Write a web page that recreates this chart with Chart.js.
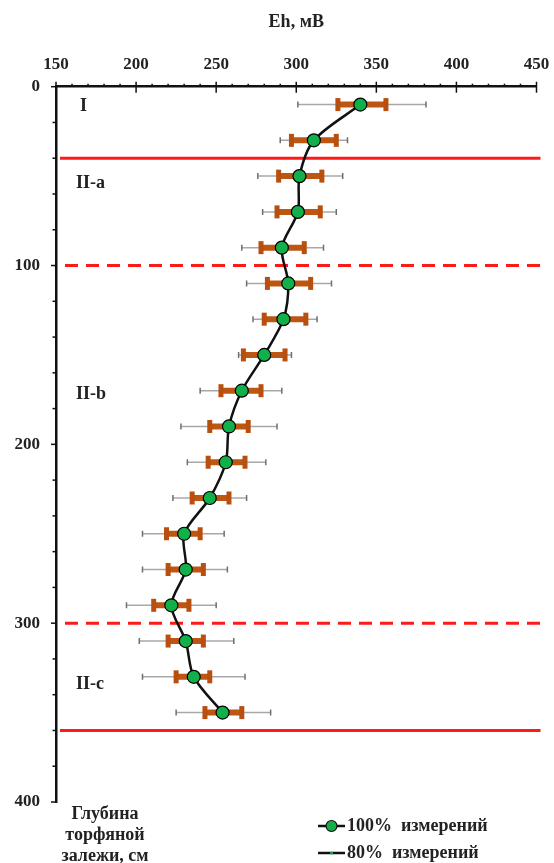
<!DOCTYPE html>
<html>
<head>
<meta charset="utf-8">
<script src="https://cdn.jsdelivr.net/npm/chart.js@4.4.1/dist/chart.umd.min.js"></script>
<style>
    html, body { margin: 0; padding: 0; background: #fff; }
    #wrap { width: 554px; height: 863px; position: relative; }
</style>
</head>
<body>
<div id="wrap"><canvas id="chart"></canvas></div>
<script>
// глубина, см
const depths = [10, 30, 50, 70, 90, 110, 130, 150, 170, 190, 210, 230, 250, 270, 290, 310, 330, 350];
// Eh, мВ (средние)
const ehMean = [340, 311, 302, 301, 291, 295, 292, 280, 266, 258, 256, 246, 230, 231, 222, 231, 236, 254];
// 100% измерений (min / max)
const eh100Min = [301, 290, 276, 279, 266, 269, 273, 264, 240, 228, 232, 223, 204, 204, 194, 202, 204, 225];
const eh100Max = [381, 332, 329, 325, 317, 322, 313, 297, 291, 288, 281, 269, 255, 257, 250, 261, 268, 284];
// 80% измерений (min / max)
const eh80Min = [326, 297, 289, 288, 278, 282, 280, 267, 253, 246, 245, 235, 219, 220, 211, 220, 225, 243];
const eh80Max = [356, 325, 316, 315, 305, 309, 306, 293, 278, 270, 268, 258, 240, 242, 233, 242, 246, 266];

const xTicks = [150, 200, 250, 300, 350, 400, 450];
const yTicks = [0, 100, 200, 300, 400];

// границы слоёв
const solidBounds = [40, 360];
const dashedBounds = [100, 300];
const zoneLabels = ["I", "II-a", "II-b", "II-c"];
const zoneDepths = [11, 54, 172, 334];

const FONT = "'Liberation Serif', 'Times New Roman', serif";

const decorPlugin = {
    id: "decor",
    beforeDatasetsDraw(chart) {
        const ctx = chart.ctx;
        const xs = chart.scales.x;
        const ys = chart.scales.y;
        const area = chart.chartArea;
        ctx.save();

        // red zone lines
        ctx.strokeStyle = "#ff1a1a";
        ctx.lineWidth = 3;
        solidBounds.forEach((d) => {
            const y = ys.getPixelForValue(d);
            ctx.setLineDash([]);
            ctx.beginPath();
            ctx.moveTo(area.left + 4, y);
            ctx.lineTo(area.right + 4, y);
            ctx.stroke();
        });
        dashedBounds.forEach((d) => {
            const y = ys.getPixelForValue(d);
            ctx.setLineDash([13, 8]);
            ctx.beginPath();
            ctx.moveTo(area.left + 9, y);
            ctx.lineTo(area.right + 4, y);
            ctx.stroke();
        });
        ctx.setLineDash([]);

        // error bars
        depths.forEach((d, i) => {
            const y = ys.getPixelForValue(d);
            const g1 = xs.getPixelForValue(eh100Min[i]);
            const g2 = xs.getPixelForValue(eh100Max[i]);
            ctx.strokeStyle = "#a8a8a8";
            ctx.lineWidth = 1.5;
            ctx.beginPath();
            ctx.moveTo(g1, y);
            ctx.lineTo(g2, y);
            ctx.stroke();
            ctx.strokeStyle = "#6f6f6f";
            ctx.beginPath();
            ctx.moveTo(g1, y - 3);
            ctx.lineTo(g1, y + 3);
            ctx.moveTo(g2, y - 3);
            ctx.lineTo(g2, y + 3);
            ctx.stroke();

            const b1 = xs.getPixelForValue(eh80Min[i]);
            const b2 = xs.getPixelForValue(eh80Max[i]);
            ctx.strokeStyle = "#bd5613";
            ctx.lineWidth = 6;
            ctx.beginPath();
            ctx.moveTo(b1, y);
            ctx.lineTo(b2, y);
            ctx.stroke();
            ctx.fillStyle = "#b94f0e";
            ctx.fillRect(b1 - 2.5, y - 6.5, 5, 13);
            ctx.fillRect(b2 - 2.5, y - 6.5, 5, 13);
        });

        // zone labels
        ctx.fillStyle = "#222";
        ctx.font = "bold 18px " + FONT;
        ctx.textAlign = "left";
        ctx.textBaseline = "middle";
        zoneLabels.forEach((t, i) => {
            const x = t === "I" ? area.left + 24 : area.left + 20;
            ctx.fillText(t, x, ys.getPixelForValue(zoneDepths[i]));
        });
        ctx.restore();
    },
    afterDraw(chart) {
        const ctx = chart.ctx;
        const xs = chart.scales.x;
        const ys = chart.scales.y;
        const area = chart.chartArea;
        ctx.save();
        ctx.strokeStyle = "#111";
        ctx.lineWidth = 1.5;

        // x ticks (top axis)
        for (let v = 150; v <= 450; v += 10) {
            const x = xs.getPixelForValue(v);
            ctx.beginPath();
            if (v % 50 === 0) {
                ctx.moveTo(x, area.top - 5);
                ctx.lineTo(x, area.top + 6);
            } else {
                ctx.moveTo(x, area.top - 3);
                ctx.lineTo(x, area.top);
            }
            ctx.stroke();
        }
        // y ticks (left axis)
        for (let v = 0; v <= 400; v += 20) {
            const y = ys.getPixelForValue(v);
            ctx.beginPath();
            ctx.moveTo(area.left - (v % 100 === 0 ? 5 : 3.5), y);
            ctx.lineTo(area.left, y);
            ctx.stroke();
        }

        ctx.fillStyle = "#222";
        ctx.textAlign = "center";
        ctx.textBaseline = "middle";
        ctx.font = "bold 18px " + FONT;
        ctx.fillText("Eh, мВ", (area.left + area.right) / 2, 22);

        ctx.fillText("Глубина", 105, 814);
        ctx.fillText("торфяной", 105, 835);
        ctx.fillText("залежи, см", 105, 856);

        // legend
        ctx.strokeStyle = "#111";
        ctx.lineWidth = 2.5;
        ctx.beginPath();
        ctx.moveTo(318, 826);
        ctx.lineTo(345, 826);
        ctx.stroke();
        ctx.fillStyle = "#12b04a";
        ctx.lineWidth = 1.2;
        ctx.beginPath();
        ctx.arc(331.5, 826, 5.5, 0, Math.PI * 2);
        ctx.fill();
        ctx.stroke();

        ctx.lineWidth = 2.5;
        ctx.beginPath();
        ctx.moveTo(318, 853);
        ctx.lineTo(345, 853);
        ctx.stroke();
        ctx.fillStyle = "#12b04a";
        ctx.beginPath();
        ctx.arc(331.5, 853, 1.5, 0, Math.PI * 2);
        ctx.fill();

        ctx.fillStyle = "#222";
        ctx.textAlign = "left";
        ctx.font = "bold 18px " + FONT;
        ctx.fillText("100%  измерений", 347, 826);
        ctx.fillText("80%  измерений", 347, 853);
        ctx.restore();
    },
};

const ctx = document.getElementById("chart").getContext("2d");

new Chart(ctx, {
    type: "line",
    data: {
        datasets: [
            {
                label: "100% измерений",
                data: depths.map((d, i) => ({ x: ehMean[i], y: d })),
                borderColor: "#111",
                borderWidth: 2.5,
                tension: 0.3,
                pointRadius: 6.5,
                pointBackgroundColor: "#12b04a",
                pointBorderColor: "#000",
                pointBorderWidth: 1.2,
                fill: false,
            },
        ],
    },
    options: {
        responsive: true,
        maintainAspectRatio: false,
        animation: false,
        layout: { padding: { top: 0, left: 0, right: 17.5, bottom: 61 } },
        plugins: {
            legend: { display: false },
            tooltip: { enabled: false },
        },
        scales: {
            x: {
                type: "linear",
                position: "top",
                min: 150,
                max: 450,
                afterBuildTicks: (axis) => {
                    axis.ticks = xTicks.map((v) => ({ value: v }));
                },
                afterFit: (axis) => {
                    axis.height = 86.7;
                    axis.paddingLeft = 0;
                    axis.paddingRight = 0;
                },
                grid: { drawOnChartArea: false, drawTicks: false },
                border: { display: true, color: "#111", width: 2.5 },
                ticks: {
                    padding: 12,
                    color: "#222",
                    font: { family: FONT, size: 17, weight: "bold" },
                },
            },
            y: {
                type: "linear",
                reverse: true,
                min: 0,
                max: 400,
                afterBuildTicks: (axis) => {
                    axis.ticks = yTicks.map((v) => ({ value: v }));
                },
                afterFit: (axis) => {
                    axis.width = 56;
                    axis.paddingTop = 0;
                    axis.paddingBottom = 0;
                },
                grid: { drawOnChartArea: false, drawTicks: false },
                border: { display: true, color: "#111", width: 2.5 },
                ticks: {
                    padding: 16,
                    color: "#222",
                    font: { family: FONT, size: 17, weight: "bold" },
                },
            },
        },
    },
    plugins: [decorPlugin],
});
</script>
</body>
</html>
